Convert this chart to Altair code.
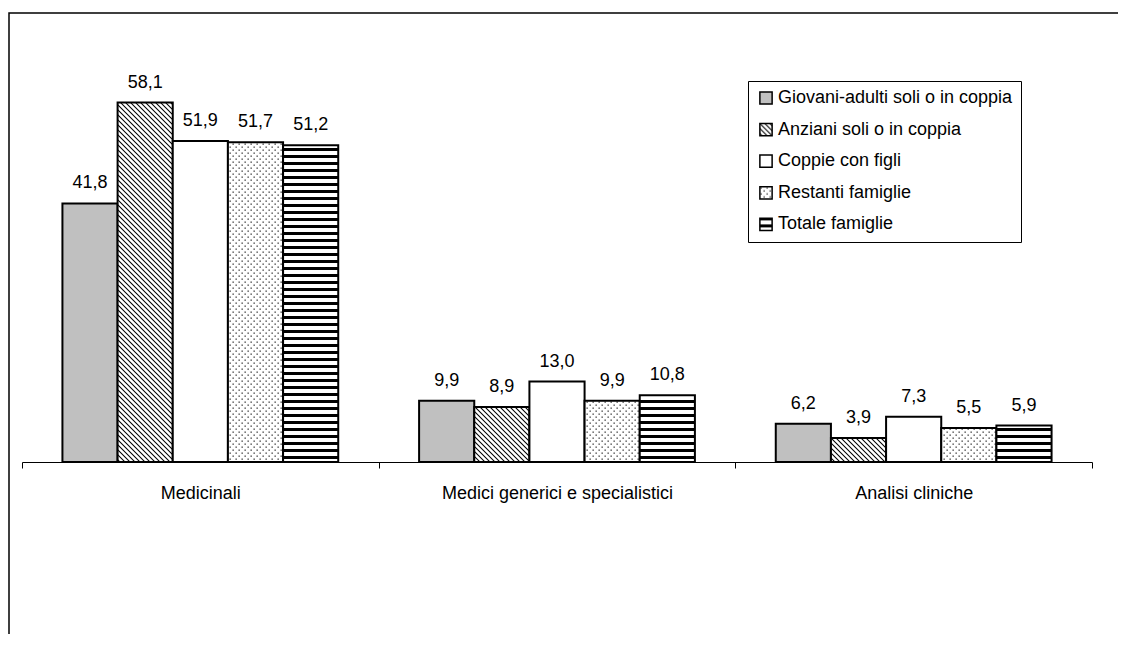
import altair as alt
import pandas as pd
from altair.utils.html import HTML_TEMPLATE

categories = ["Medicinali", "Medici generici e specialistici", "Analisi cliniche"]
series = [
    "Giovani-adulti soli o in coppia",
    "Anziani soli o in coppia",
    "Coppie con figli",
    "Restanti famiglie",
    "Totale famiglie",
]
medicinali = [41.8, 58.1, 51.9, 51.7, 51.2]
medici = [9.9, 8.9, 13.0, 9.9, 10.8]
analisi = [6.2, 3.9, 7.3, 5.5, 5.9]
fills = ["#c0c0c0", "url(#pHatch)", "#ffffff", "url(#pDots)", "url(#pStripes)"]

rows = []
for cat, vals in zip(categories, [medicinali, medici, analisi]):
    for s, v in zip(series, vals):
        rows.append({"cat": cat, "series": s, "value": v,
                     "label": f"{v:.1f}".replace(".", ",")})
df = pd.DataFrame(rows)

FONT = "Liberation Sans"

x = alt.X("cat:N", sort=categories, title=None,
          scale=alt.Scale(paddingInner=0, paddingOuter=0),
          axis=alt.Axis(labelAngle=0, labelFont=FONT, labelFontSize=18, labelColor="black",
                        domainColor="black", domainWidth=1, tickColor="black", tickSize=6,
                        tickBand="extent", labelPadding=16, grid=False, labelLimit=600))
xo = alt.XOffset("series:N", sort=series,
                 scale=alt.Scale(paddingInner=0, paddingOuter=0.733))
y = alt.Y("value:Q", scale=alt.Scale(domain=[0, 70]), axis=None)

bars = alt.Chart(df).mark_bar(stroke="black", strokeWidth=2).encode(
    x=x, xOffset=xo, y=y,
    fill=alt.Fill("series:N", scale=alt.Scale(domain=series, range=fills),
                  legend=alt.Legend(title=None, orient="none", legendX=726, legendY=52,
                                    padding=8, rowPadding=11.6, symbolType="square",
                                    symbolSize=150, symbolStrokeColor="black",
                                    symbolStrokeWidth=1.5, symbolOffset=1, labelOffset=3,
                                    labelFont=FONT, labelFontSize=18, labelColor="black",
                                    strokeColor="black", fillColor="white", labelLimit=600)),
)

labels = alt.Chart(df).mark_text(font=FONT, fontSize=18, dy=-15, baseline="alphabetic",
                                 align="center", color="black").encode(
    x=x, xOffset=xo, y=y, text="label:N")

frame = alt.Chart(pd.DataFrame({"f": [0]})).mark_rect(
    fillOpacity=0, stroke="black", strokeWidth=1.5).encode(
    x=alt.value(-13), x2=alt.value(1110), y=alt.value(-16), y2=alt.value(660))

chart = alt.layer(frame, bars, labels).properties(
    width=1070, height=433,
    padding={"left": 14, "top": 21, "right": 26, "bottom": 172},
    autosize=alt.AutoSizeParams(type="none"),
).configure_view(strokeWidth=0)

PATTERN_DEFS = """<svg width="0" height="0" style="position:absolute;left:0;top:0"><defs>
<pattern id="pHatch" patternUnits="userSpaceOnUse" width="5" height="5">
<rect width="5" height="5" fill="white"/>
<path d="M-1,-1 L6,6 M-1,4 L1,6 M4,-1 L6,1" stroke="black" stroke-width="1.05"/>
</pattern>
<pattern id="pDots" patternUnits="userSpaceOnUse" width="6" height="6">
<rect width="6" height="6" fill="white"/>
<rect x="0.5" y="0.5" width="1.3" height="1.3" fill="#333"/>
<rect x="3.5" y="3.5" width="1.3" height="1.3" fill="#333"/>
</pattern>
<pattern id="pStripes" patternUnits="userSpaceOnUse" width="7" height="7">
<rect width="7" height="7" fill="white"/>
<rect y="0" width="7" height="3" fill="black"/>
</pattern>
</defs></svg>"""


class PatternTemplate:
    def render(self, **kw):
        html = HTML_TEMPLATE.render(**kw)
        if "<body>" in html:
            return html.replace("<body>", "<body>" + PATTERN_DEFS, 1)
        return html.replace('<div id="', PATTERN_DEFS + '<div id="', 1)


chart.save("out.html", embed_options={"renderer": "svg", "actions": False},
           template=PatternTemplate())
